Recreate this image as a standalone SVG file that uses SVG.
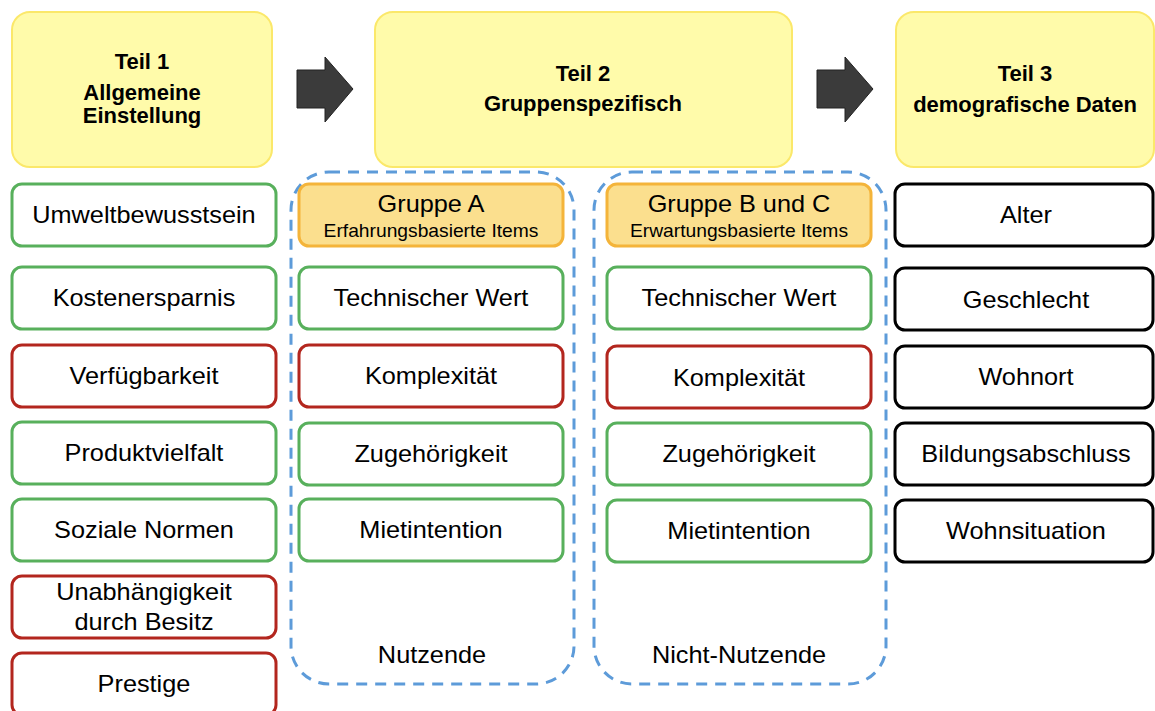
<svg xmlns="http://www.w3.org/2000/svg" width="1155" height="711" viewBox="0 0 1155 711">
<style>
text{font-family:"Liberation Sans",Arial,sans-serif;fill:#000;text-anchor:middle}
.part{fill:#fffbaa;stroke:#fbe86a;stroke-width:2}
.ph{font-size:22px;font-weight:bold}
.item{fill:#fff;stroke-width:3}
.g{stroke:#58b05c}
.r{stroke:#b3261e}
.k{stroke:#000}
.hdr{fill:#fbdf8e;stroke:#f4b43a;stroke-width:3}
.it,.sub{transform-box:fill-box;transform-origin:center;transform:scaleX(1.1)}
.it{font-size:23px}
.sub{font-size:17.5px}
.cont{fill:none;stroke:#5d9bd9;stroke-width:3;stroke-dasharray:11 8}
.arr{fill:#3b3b3b;stroke:#222;stroke-width:1}
</style>

<g id="connectors">
<path class="arr" d="M297,70 H325 V57 L353,89 L325,122 V108 H297 Z"/>
<path class="arr" d="M817,70 H845 V57 L873,89 L845,122 V108 H817 Z"/>
</g>

<g id="teil1"><rect class="part" x="12" y="12" width="260" height="155" rx="18"/>
<text class="ph" x="142" y="69">Teil 1</text>
<text class="ph" x="142" y="100">Allgemeine</text>
<text class="ph" x="142" y="123">Einstellung</text></g>

<g id="teil2"><rect class="part" x="375" y="12" width="417" height="155" rx="18"/>
<text class="ph" x="583" y="81">Teil 2</text>
<text class="ph" x="583" y="111">Gruppenspezifisch</text></g>

<g id="teil3"><rect class="part" x="896" y="12" width="258" height="155" rx="18"/>
<text class="ph" x="1025" y="81">Teil 3</text>
<text class="ph" x="1025" y="112">demografische Daten</text></g>

<g id="nutzende"><rect class="cont" x="291" y="172" width="283" height="512" rx="38"/>
<text class="it" x="432" y="663">Nutzende</text></g>
<g id="nichtnutzende"><rect class="cont" x="594" y="172" width="292" height="512" rx="38"/>
<text class="it" x="739" y="663">Nicht-Nutzende</text></g>

<g id="umwelt"><rect class="item g" x="12" y="184" width="264" height="62" rx="10"/><text class="it" x="144" y="223">Umweltbewusstsein</text></g>
<g id="kosten"><rect class="item g" x="12" y="267" width="264" height="62" rx="10"/><text class="it" x="144" y="306">Kostenersparnis</text></g>
<g id="verfueg"><rect class="item r" x="12" y="345" width="264" height="62" rx="10"/><text class="it" x="144" y="384">Verfügbarkeit</text></g>
<g id="produkt"><rect class="item g" x="12" y="422" width="264" height="62" rx="10"/><text class="it" x="144" y="461">Produktvielfalt</text></g>
<g id="sozial"><rect class="item g" x="12" y="499" width="264" height="62" rx="10"/><text class="it" x="144" y="538">Soziale Normen</text></g>
<g id="unabh"><rect class="item r" x="12" y="576" width="264" height="62" rx="10"/><text class="it" x="144" y="600">Unabhängigkeit</text><text class="it" x="144" y="630">durch Besitz</text></g>
<g id="prestige"><rect class="item r" x="12" y="653" width="264" height="62" rx="10"/><text class="it" x="144" y="692">Prestige</text></g>

<g id="gruppeA"><rect class="hdr" x="299" y="184" width="264" height="62" rx="10"/><text class="it" x="431" y="212">Gruppe A</text><text class="sub" x="431" y="237">Erfahrungsbasierte Items</text></g>
<g id="a_tech"><rect class="item g" x="299" y="267" width="264" height="62" rx="10"/><text class="it" x="431" y="306">Technischer Wert</text></g>
<g id="a_komp"><rect class="item r" x="299" y="345" width="264" height="62" rx="10"/><text class="it" x="431" y="384">Komplexität</text></g>
<g id="a_zug"><rect class="item g" x="299" y="423" width="264" height="62" rx="10"/><text class="it" x="431" y="462">Zugehörigkeit</text></g>
<g id="a_miet"><rect class="item g" x="299" y="499" width="264" height="62" rx="10"/><text class="it" x="431" y="538">Mietintention</text></g>

<g id="gruppeBC"><rect class="hdr" x="607" y="184" width="264" height="62" rx="10"/><text class="it" x="739" y="212">Gruppe B und C</text><text class="sub" x="739" y="237">Erwartungsbasierte Items</text></g>
<g id="b_tech"><rect class="item g" x="607" y="267" width="264" height="62" rx="10"/><text class="it" x="739" y="306">Technischer Wert</text></g>
<g id="b_komp"><rect class="item r" x="607" y="346" width="264" height="62" rx="10"/><text class="it" x="739" y="386">Komplexität</text></g>
<g id="b_zug"><rect class="item g" x="607" y="423" width="264" height="62" rx="10"/><text class="it" x="739" y="462">Zugehörigkeit</text></g>
<g id="b_miet"><rect class="item g" x="607" y="500" width="264" height="62" rx="10"/><text class="it" x="739" y="539">Mietintention</text></g>

<g id="alter"><rect class="item k" x="895" y="184" width="258" height="62" rx="10"/><text class="it" x="1026" y="223">Alter</text></g>
<g id="geschlecht"><rect class="item k" x="895" y="268" width="258" height="62" rx="10"/><text class="it" x="1026" y="308">Geschlecht</text></g>
<g id="wohnort"><rect class="item k" x="895" y="346" width="258" height="62" rx="10"/><text class="it" x="1026" y="385">Wohnort</text></g>
<g id="bildung"><rect class="item k" x="895" y="423" width="258" height="62" rx="10"/><text class="it" x="1026" y="462">Bildungsabschluss</text></g>
<g id="wohnsit"><rect class="item k" x="895" y="500" width="258" height="62" rx="10"/><text class="it" x="1026" y="539">Wohnsituation</text></g>
</svg>
